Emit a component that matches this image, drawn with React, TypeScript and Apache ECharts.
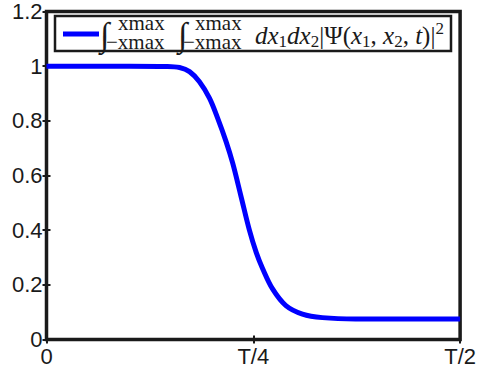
import React, { useEffect, useRef } from "react";
import * as echarts from "echarts";

// time in units of the period T (T/2 = 0.5)
const tValues = [0, 0.05, 0.1, 0.145, 0.1608, 0.1729, 0.1849, 0.197, 0.207, 0.2171, 0.2251, 0.2352, 0.2452, 0.2536, 0.2612, 0.2733, 0.2894, 0.3094, 0.3335, 0.3737, 0.42, 0.5];
const probValues = [1, 1, 1, 0.999, 0.995, 0.98, 0.943, 0.883, 0.809, 0.724, 0.645, 0.523, 0.401, 0.318, 0.26, 0.185, 0.124, 0.093, 0.08, 0.075, 0.075, 0.075];
const xTickLabels = ["0", "T/4", "T/2"];
const yTickLabels = ["0", "0.2", "0.4", "0.6", "0.8", "1", "1.2"];

const INK = "#1a1a1a";
const SERIF = "'Liberation Serif', 'DejaVu Serif', serif";
const SANS = "'Liberation Sans', Arial, sans-serif";

export default function App() {
  const ref = useRef<HTMLDivElement>(null);
  useEffect(() => {
    if (!ref.current) return;
    const chart = echarts.init(ref.current, undefined, { renderer: "svg" });
    const data = tValues.map((t, i) => [t, probValues[i]]);
    const tick = { show: true, inside: true, length: 4, lineStyle: { color: INK, width: 2 } };
    const small = (text: string, x: number, y: number) => ({
      type: "text", x, y,
      style: { text, font: `21px ${SERIF}`, fill: INK, verticalAlign: "middle", align: "left", lineHeight: 13 },
    });
    const integral = (x: number) => ({
      type: "text", x, y: 34,
      style: { text: "∫", font: `italic 34px ${SERIF}`, fill: INK, verticalAlign: "middle", align: "left", lineHeight: 28 },
    });
    chart.setOption({
      animation: false,
      backgroundColor: "#fff",
      grid: { left: 46.5, right: 17.5, top: 11.5, bottom: 33.5, show: true, borderColor: INK, borderWidth: 3.5, backgroundColor: "transparent" },
      xAxis: [
        {
          type: "value", min: 0, max: 0.5, interval: 0.25,
          axisLine: { show: false }, splitLine: { show: false }, axisTick: tick,
          axisLabel: { fontSize: 22, color: INK, fontFamily: SANS, margin: 6, formatter: (_v: number, i: number) => xTickLabels[i] ?? "" },
        },
        {
          type: "value", position: "top", min: 0, max: 0.5, interval: 0.25,
          axisLine: { show: false }, splitLine: { show: false }, axisTick: tick, axisLabel: { show: false },
        },
      ],
      yAxis: [
        {
          type: "value", min: 0, max: 1.2, interval: 0.2,
          axisLine: { show: false }, splitLine: { show: false }, axisTick: tick,
          axisLabel: { fontSize: 22, color: INK, fontFamily: SANS, margin: 4, formatter: (_v: number, i: number) => yTickLabels[i] ?? "" },
        },
        {
          type: "value", position: "right", min: 0, max: 1.2, interval: 0.2,
          axisLine: { show: false }, splitLine: { show: false }, axisTick: tick, axisLabel: { show: false },
        },
      ],
      series: [
        {
          type: "line", data, showSymbol: false, smooth: 0.35,
          lineStyle: { color: "#0000ff", width: 5 }, z: 3,
        },
      ],
      graphic: [
        {
          type: "group", z: 100,
          children: [
            { type: "rect", shape: { x: 55, y: 16, width: 396, height: 35 }, style: { fill: "#fff", stroke: INK, lineWidth: 2.5 } },
            { type: "line", shape: { x1: 63, y1: 34, x2: 99, y2: 34 }, style: { stroke: "#0000ff", lineWidth: 5 } },
            integral(100),
            small("xmax", 118, 23),
            small("−xmax", 106, 42),
            integral(178),
            small("xmax", 195, 23),
            small("−xmax", 183, 42),
            {
              type: "text", x: 255, y: 35,
              style: {
                text: "{it|dx}{sub|1}{it|dx}{sub|2}{rm||Ψ(}{it|x}{sub|1}{rm|, }{it|x}{sub|2}{rm|, }{it|t}{rm|)|}{sup|2}",
                verticalAlign: "middle", align: "left", fill: INK,
                rich: {
                  it: { fontFamily: SERIF, fontStyle: "italic", fontSize: 25, lineHeight: 30, fill: INK },
                  rm: { fontFamily: SERIF, fontSize: 25, lineHeight: 30, fill: INK },
                  sub: { fontFamily: SERIF, fontSize: 17, lineHeight: 30, verticalAlign: "bottom", fill: INK },
                  sup: { fontFamily: SERIF, fontSize: 17, lineHeight: 30, verticalAlign: "top", fill: INK },
                },
              },
            },
          ],
        },
      ],
    });
    return () => chart.dispose();
  }, []);
  return <div ref={ref} style={{ position: "fixed", left: 0, top: 0, width: 479, height: 373 }} />;
}
